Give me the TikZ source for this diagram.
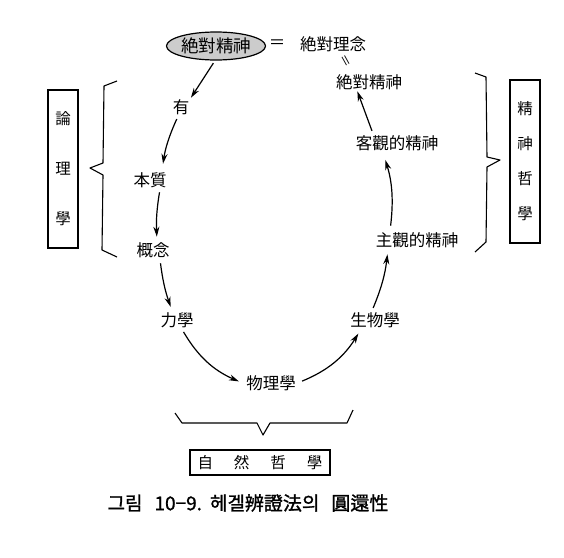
\documentclass[tikz,border=0pt]{standalone}
\usepackage{fontspec}
\setmainfont{Noto Sans CJK KR}
\newfontfamily\capfont[FakeBold=1.3]{Noto Sans CJK KR}
\usetikzlibrary{arrows.meta,shapes.geometric}
\begin{document}
\begin{tikzpicture}[x=1pt,y=-1pt,
  lbl/.style={font=\fontsize{16.5}{18}\selectfont, inner sep=1.5pt},
  arr/.style={line width=1.2pt, -{Stealth[length=10pt,width=6pt]}},
  brace/.style={line width=1.1pt, line join=round},
  vbox/.style={draw, line width=1.2pt, minimum width=30pt, align=center, inner sep=0pt},
]
\useasboundingbox[fill=white] (0,0) rectangle (564,557);

% nodes
\node[draw, ellipse, fill=gray!40, line width=1.2pt, minimum width=93pt, minimum height=28pt,
      inner sep=0pt, font=\fontsize{17.5}{18}\selectfont] (ell) at (216,46) {絶對精神};
\node[lbl] (eq) at (277,44) {＝};
\node[lbl] (jl) at (333,44) {絶對理念};
\node[font=\fontsize{13}{14}\selectfont, inner sep=0pt, rotate=-61] (dq) at (345,62) {＝};
\node[lbl, inner sep=0.5pt] (jd) at (369,82) {絶對精神};
\node[lbl] (you) at (181,107) {有};
\node[lbl] (bz) at (150,180) {本質};
\node[lbl] (gn) at (153,250) {概念};
\node[lbl] (lx) at (177,320) {力學};
\node[lbl] (wl) at (271,383) {物理學};
\node[lbl] (sw) at (375,320) {生物學};
\node[lbl] (zg) at (417,240) {主觀的精神};
\node[lbl] (kg) at (397,143) {客觀的精神};

% arrows
\draw[arr, shorten <=3pt] ([xshift=-1pt]ell.south) -- (you.north east);
\draw[arr, shorten <=3pt, shorten >=7pt] ([xshift=-3pt]you.south) to[bend right=8] ([xshift=12pt]bz.north);
\draw[arr, shorten <=3pt, shorten >=4pt] ([xshift=10pt]bz.south) to[bend right=6] ([xshift=4pt]gn.north);
\draw[arr, shorten <=4pt, shorten >=4pt] ([xshift=7pt]gn.south) to[bend right=6] ([xshift=-5pt]lx.north);
\draw[arr, shorten <=3pt, shorten >=4pt] ([xshift=5pt]lx.south) to[bend right=18] ([xshift=-2pt]wl.west);
\draw[arr, shorten <=5pt, shorten >=5pt] (wl.east) to[bend right=18] ([xshift=-14pt]sw.south);
\draw[arr, shorten <=3pt, shorten >=5pt] ([xshift=-3pt]sw.north) to[bend right=8] ([xshift=-29pt]zg.south);
\draw[arr, shorten <=5pt, shorten >=8pt] ([xshift=-27pt]zg.north) to[bend right=12] ([xshift=-14pt]kg.south);
\draw[arr, shorten <=3pt, shorten >=1pt] ([xshift=-24pt]kg.north) -- ([xshift=-12pt]jd.south);

% side boxes
\node[vbox, minimum height=158pt, font=\fontsize{15.5}{50}\selectfont] (lbox) at (63,169) {論\\理\\學};
\node[vbox, minimum height=163pt, font=\fontsize{15.5}{35}\selectfont] (rbox) at (525,161.5) {精\\神\\哲\\學};
\node[draw, line width=1.2pt, minimum width=140pt, minimum height=25pt, inner sep=0pt,
      font=\fontsize{15.5}{18}\selectfont] (nbox) at (260,462.5) {自\hspace{21pt}然\hspace{21pt}哲\hspace{21pt}學};

% braces
\draw[brace] (117,81) -- (104,86) -- (103,163) -- (90,168) -- (103,175) -- (102,250) -- (117,257);
\draw[brace] (475,73) -- (486,77) -- (487,157) -- (500,160) -- (487,167) -- (486,242) -- (475,252);
\draw[brace] (175,413) -- (182,423) -- (257,423) -- (263,435) -- (270,423) -- (347,423) -- (353,410);

% caption
\node[font=\capfont\fontsize{19}{22}\selectfont, inner sep=0pt] (cap) at (248,503)
  {그림\hspace{12pt}10−9.\hspace{8pt}헤겔辨證法의\hspace{12pt}圓還性};
\end{tikzpicture}
\end{document}
